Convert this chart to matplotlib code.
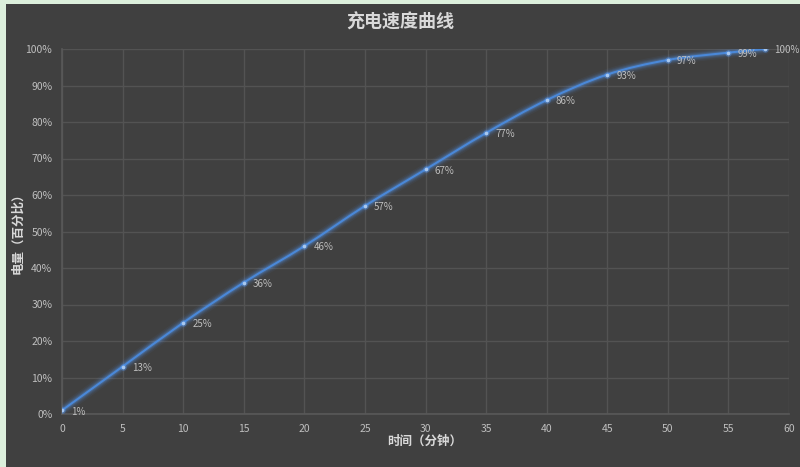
import numpy as np
import matplotlib
matplotlib.use('Agg')
import matplotlib.pyplot as plt
from matplotlib.path import Path
from matplotlib.patches import PathPatch, Rectangle
from matplotlib.ticker import FuncFormatter

plt.rcParams['font.family'] = ['Noto Sans CJK SC', 'DejaVu Sans']

# data
minutes = [0, 5, 10, 15, 20, 25, 30, 35, 40, 45, 50, 55, 58]
battery = [1, 13, 25, 36, 46, 57, 67, 77, 86, 93, 97, 99, 100]
title = '充电速度曲线'
x_label = '时间（分钟）'
y_label = '电量（百分比）'

bg = '#404040'
grid_col = '#535353'
text_col = '#bfbfbf'
line_col = '#4a88d8'


def smooth_path(xs, ys, tension=0.5):
    # Excel-like smoothed line: cardinal spline as cubic bezier segments
    xs = np.asarray(xs, float)
    ys = np.asarray(ys, float)
    n = len(xs)
    verts = [(xs[0], ys[0])]
    codes = [Path.MOVETO]
    for i in range(n - 1):
        p0 = np.array([xs[max(i - 1, 0)], ys[max(i - 1, 0)]])
        p1 = np.array([xs[i], ys[i]])
        p2 = np.array([xs[i + 1], ys[i + 1]])
        p3 = np.array([xs[min(i + 2, n - 1)], ys[min(i + 2, n - 1)]])
        c1 = p1 + (p2 - p0) * tension / 3
        c2 = p2 - (p3 - p1) * tension / 3
        verts += [tuple(c1), tuple(c2), tuple(p2)]
        codes += [Path.CURVE4] * 3
    return Path(verts, codes)


fig = plt.figure(figsize=(8, 4.67), dpi=100, facecolor='#dcefdc')
# dark chart box sitting on the spreadsheet
fig.patches.append(Rectangle((6 / 800, 0), 1, 1 - 4 / 467, transform=fig.transFigure,
                             facecolor=bg, edgecolor='none', zorder=-10))

ax = fig.add_axes([62 / 800, 1 - 414 / 467, (789 - 62) / 800, (414 - 49) / 467])
ax.set_zorder(1)
ax.set_facecolor(bg)
ax.set_xlim(0, 60)
ax.set_ylim(0, 100)
ax.set_xticks(range(0, 61, 5))
ax.set_yticks(range(0, 101, 10))
ax.yaxis.set_major_formatter(FuncFormatter(lambda v, p: f'{int(v)}%'))
ax.grid(True, color=grid_col, linewidth=1)
ax.set_axisbelow(True)
for s in ['top', 'right']:
    ax.spines[s].set_visible(False)
for s in ['left', 'bottom']:
    ax.spines[s].set_color('#595959')
    ax.spines[s].set_linewidth(1.2)
ax.tick_params(length=0, colors=text_col, labelsize=7.5, pad=7)

path = smooth_path(minutes, battery)
# glow
for lw, a in [(8, 0.05), (6, 0.08), (4.5, 0.12), (3, 0.2)]:
    ax.add_patch(PathPatch(path, facecolor='none', edgecolor='#5aa0ff', lw=lw, alpha=a,
                           capstyle='round', joinstyle='round', zorder=3))
ax.add_patch(PathPatch(path, facecolor='none', edgecolor=line_col, lw=1.5, zorder=4))
ax.scatter(minutes, battery, s=22, color='#5aa0ff', alpha=0.35, zorder=5, linewidths=0)
ax.scatter(minutes, battery, s=7, color='#a8c8f0', zorder=6, linewidths=0)

for x, y in zip(minutes, battery):
    ax.annotate(f'{y}%', (x, y), xytext=(6.5, -1), textcoords='offset points',
                color=text_col, fontsize=7, va='center', ha='left', zorder=7)

fig.text(0.5, 1 - 22 / 467, title, ha='center', va='center', color='#d9d9d9',
         fontsize=13, fontweight='bold')
fig.text(425 / 800, 1 - 441 / 467, x_label, ha='center', va='center', color='#d9d9d9',
         fontsize=9, fontweight='bold')
fig.text(18 / 800, 1 - 230 / 467, y_label, ha='center', va='center', color='#d9d9d9',
         fontsize=9, fontweight='bold', rotation=90)

fig.savefig('out.png', dpi=100, facecolor=fig.get_facecolor())
